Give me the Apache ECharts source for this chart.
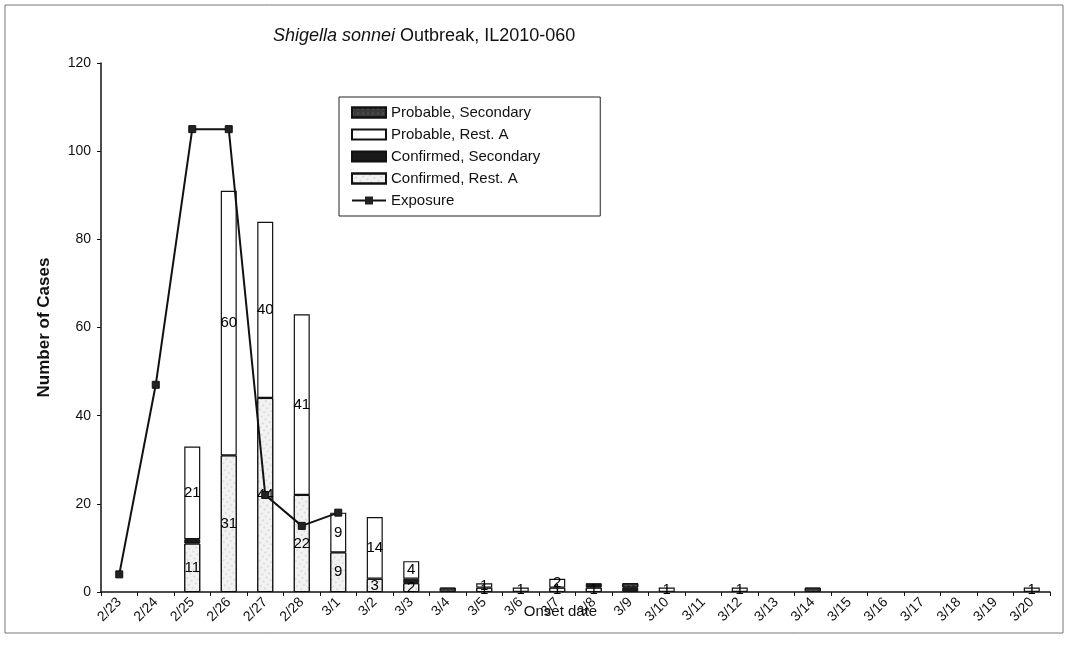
<!DOCTYPE html>
<html>
<head>
<meta charset="utf-8">
<script src="https://cdn.jsdelivr.net/npm/echarts@6/dist/echarts.min.js"></script>
<style>
html,body{margin:0;padding:0;background:#fff;}
#c{width:1070px;height:663px;}
</style>
</head>
<body>
<div id="c"></div>
<script>
const categories = ['2/23','2/24','2/25','2/26','2/27','2/28','3/1','3/2','3/3','3/4','3/5','3/6','3/7','3/8','3/9','3/10','3/11','3/12','3/13','3/14','3/15','3/16','3/17','3/18','3/19','3/20'];
const confirmedRestA    = [0,0,11,31,44,22,9,3,2,0,1,0,1,1,0,0,0,0,0,0,0,0,0,0,0,0];
const confirmedSecondary= [0,0,1,0,0,0,0,0,1,0,0,0,0,1,1,0,0,0,0,0,0,0,0,0,0,0];
const probableRestA     = [0,0,21,60,40,41,9,14,4,0,1,1,2,0,0,1,0,1,0,0,0,0,0,0,0,1];
const probableSecondary = [0,0,0,0,0,0,0,0,0,1,0,0,0,0,1,0,0,0,0,1,0,0,0,0,0,0];
const exposure = [4,47,105,105,22,15,18,null,null,null,null,null,null,null,null,null,null,null,null,null,null,null,null,null,null,null];
const yTicks = {min:0, max:120, interval:20};

const FONT = '"Liberation Sans", Arial, sans-serif';
const nz = a => a.map(v => v === 0 ? '-' : v);
const lbl = {show:true, position:'inside', color:'#000', fontSize:15, fontFamily:FONT,
  formatter: p => (p.value && p.value !== '-') ? String(p.value) : ''};

const chart = echarts.init(document.getElementById('c'), null, {renderer:'canvas'});
chart.setOption({
  backgroundColor:'#fff',
  animation:false,
  title:{
    text:'{i|Shigella sonnei} {n|Outbreak, IL2010-060}',
    left:268, top:22,
    textStyle:{fontWeight:'normal', rich:{
      i:{fontStyle:'italic', fontWeight:'normal', fontSize:18, fontFamily:FONT, color:'#111'},
      n:{fontWeight:'normal', fontSize:18, fontFamily:FONT, color:'#111'}
    }}
  },
  graphic:[
    {type:'rect', shape:{x:5, y:5, width:1058, height:628}, style:{fill:'none', stroke:'#777', lineWidth:1}}
  ],
  legend:{
    orient:'vertical', left:339, top:97,
    padding:[8,60,8,12],
    borderColor:'#222', borderWidth:1,
    backgroundColor:'#fff',
    itemWidth:34, itemHeight:10, itemGap:7,
    textStyle:{fontSize:15, fontFamily:FONT, color:'#111'},
    data:[
      {name:'Probable, Secondary', icon:'rect'},
      {name:'Probable, Rest. A', icon:'rect'},
      {name:'Confirmed, Secondary', icon:'rect'},
      {name:'Confirmed, Rest. A', icon:'rect'},
      {name:'Exposure'}
    ]
  },
  grid:{left:101, right:20, top:63, bottom:71},
  xAxis:{
    type:'category', data:categories, boundaryGap:true,
    name:'Onset date', nameLocation:'middle', nameGap:12, nameMoveOverlap:false,
    nameTextStyle:{fontSize:15, fontFamily:FONT, color:'#111', padding:[0,30,0,0]},
    axisLine:{lineStyle:{color:'#111', width:1.5}},
    axisTick:{show:true, alignWithLabel:false, length:4, lineStyle:{color:'#111'}},
    axisLabel:{rotate:45, fontSize:14, fontFamily:FONT, color:'#111', margin:8, interval:0}
  },
  yAxis:{
    type:'value', min:yTicks.min, max:yTicks.max, interval:yTicks.interval,
    name:'Number of Cases', nameLocation:'middle', nameGap:48, nameRotate:90,
    nameTextStyle:{fontSize:17, fontWeight:'bold', fontFamily:FONT, color:'#111'},
    axisLine:{show:true, lineStyle:{color:'#111', width:1.5}},
    axisTick:{show:true, length:4, lineStyle:{color:'#111'}},
    splitLine:{show:false},
    axisLabel:{fontSize:14, fontFamily:FONT, color:'#111', margin:10}
  },
  series:[
    {name:'Confirmed, Rest. A', type:'bar', stack:'c', barWidth:16, data:nz(confirmedRestA),
     itemStyle:{color:'#f2f2f2', borderColor:'#111', borderWidth:1,
       decal:{symbol:'circle', symbolSize:0.5, color:'rgba(0,0,0,0.45)', dashArrayX:[2,3], dashArrayY:[2,3], rotation:0.6}},
     label:lbl},
    {name:'Confirmed, Secondary', type:'bar', stack:'c', barWidth:16, data:nz(confirmedSecondary),
     itemStyle:{color:'#1a1a1a', borderColor:'#111', borderWidth:1}},
    {name:'Probable, Rest. A', type:'bar', stack:'c', barWidth:16, data:nz(probableRestA),
     itemStyle:{color:'#ffffff', borderColor:'#111', borderWidth:1.2},
     label:lbl},
    {name:'Probable, Secondary', type:'bar', stack:'c', barWidth:16, data:nz(probableSecondary),
     itemStyle:{color:'#3a3a3a', borderColor:'#111', borderWidth:1,
       decal:{symbol:'rect', symbolSize:0.5, color:'rgba(255,255,255,0.45)', dashArrayX:[2,3], dashArrayY:[2,3]}}},
    {name:'Exposure', type:'line', data:exposure, symbol:'rect', symbolSize:7, connectNulls:false,
     lineStyle:{color:'#111', width:2}, itemStyle:{color:'#222', borderColor:'#111'}, z:5}
  ]
});
</script>
</body>
</html>
